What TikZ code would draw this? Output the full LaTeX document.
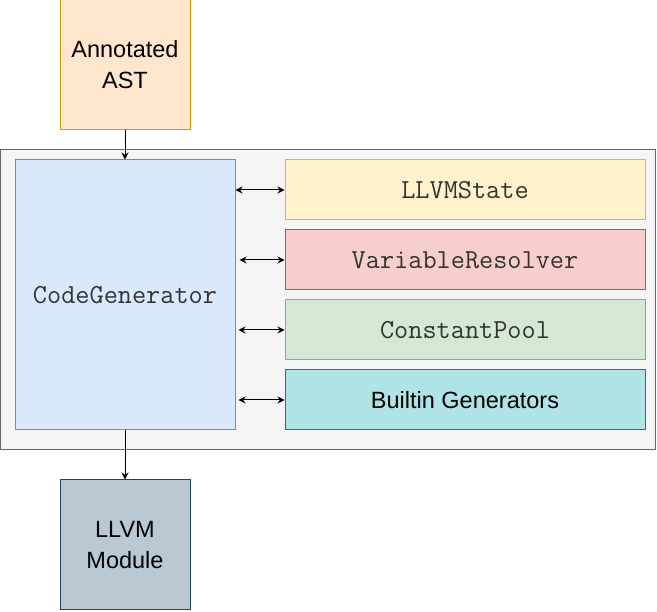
\documentclass[tikz,border=0pt]{standalone}
\usepackage{fontspec}
\setmainfont{Liberation Sans}
\usetikzlibrary{arrows.meta}

\definecolor{astfill}{HTML}{FFE6CC}
\definecolor{astdraw}{HTML}{D79B00}
\definecolor{groupfill}{HTML}{F5F5F5}
\definecolor{groupdraw}{HTML}{666666}
\definecolor{genfill}{HTML}{DAE8FC}
\definecolor{gendraw}{HTML}{6C8EBF}
\definecolor{statefill}{HTML}{FFF2CC}
\definecolor{statedraw}{HTML}{D6B656}
\definecolor{resfill}{HTML}{F8CECC}
\definecolor{resdraw}{HTML}{B85450}
\definecolor{poolfill}{HTML}{D5E8D4}
\definecolor{pooldraw}{HTML}{82B366}
\definecolor{builtfill}{HTML}{B0E3E6}
\definecolor{builtdraw}{HTML}{0E8088}
\definecolor{modfill}{HTML}{BAC8D3}
\definecolor{moddraw}{HTML}{23445D}
\definecolor{codetext}{HTML}{333333}

\tikzset{
  block/.style={rectangle, inner sep=0pt, line width=1pt, align=center,
    font=\fontsize{23.5}{31}\selectfont},
  codeblock/.style={block, text=codetext,
    font=\ttfamily\fontsize{27.5}{31}\selectfont},
  link/.style={line width=1pt, -{Stealth[length=7pt,width=7pt]}},
  twolink/.style={line width=1pt, {Stealth[length=7pt,width=7pt]}-{Stealth[length=7pt,width=7pt]}}
}

\begin{document}
\begin{tikzpicture}[x=1pt, y=-1pt]
    \useasboundingbox (0,0) rectangle (657,612);
    % surrounding group
    \node[block, fill=groupfill, draw=groupdraw, minimum width=655, minimum height=300] (group) at (328,300) {};
    % inputs and outputs
    \node[block, fill=astfill, draw=astdraw, minimum size=130] (ast) at (125,65) {Annotated\\AST};
    \node[block, fill=modfill, draw=moddraw, minimum size=130] (module) at (125,545) {LLVM\\Module};
    % generator and helpers
    \node[codeblock, fill=genfill, draw=gendraw, minimum width=220, minimum height=270] (gen) at (125,295) {CodeGenerator};
    \foreach \name/\fillc/\drawc/\txt [count=\i from 0] in {state/statefill/statedraw/LLVMState,
        resolver/resfill/resdraw/VariableResolver, pool/poolfill/pooldraw/ConstantPool}{
      \node[codeblock, fill=\fillc, draw=\drawc, minimum width=360, minimum height=60] (\name) at (465,190+70*\i) {\txt};
    }
    \node[block, fill=builtfill, draw=builtdraw, minimum width=360, minimum height=60] (builtin) at (465,400) {Builtin Generators};
    % connectors
    \draw[link] (ast) -- (gen);
    \draw[link] (gen) -- (module);
    \draw[twolink] (gen.east |- state) -- (state);
    \draw[twolink] ([xshift=4pt]gen.east |- resolver) -- (resolver);
    \draw[twolink] ([xshift=3pt]gen.east |- pool) -- (pool);
    \draw[twolink] ([xshift=3pt]gen.east |- builtin) -- (builtin);
\end{tikzpicture}
\end{document}
